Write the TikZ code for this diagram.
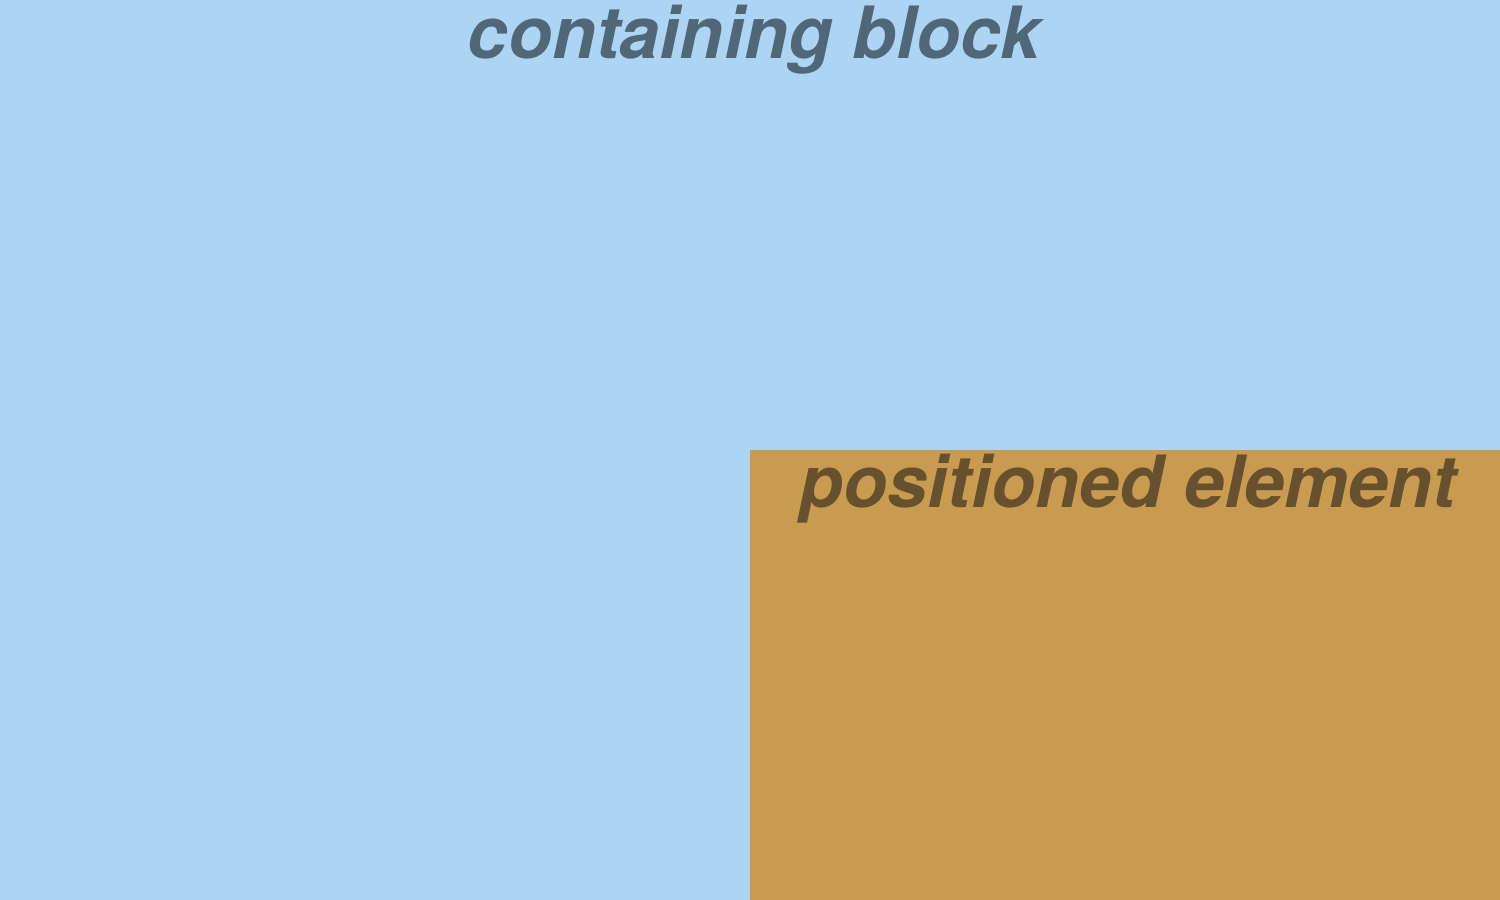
\documentclass[tikz,border=0pt]{standalone}
\usepackage{fontspec}
\setmainfont{TeX Gyre Heros}
\definecolor{cbblue}{HTML}{ADD4F3}
\definecolor{peorange}{HTML}{C99B50}
\definecolor{cbtext}{HTML}{4F6777}
\definecolor{petext}{HTML}{67502D}
\tikzset{
  lbl/.style={anchor=base, inner sep=0pt, font=\fontsize{20.5pt}{24pt}\selectfont\bfseries\itshape}
}
\begin{document}
\begin{tikzpicture}[x=0.01cm,y=-0.01cm]
\useasboundingbox (0,0) rectangle (1500,900);
\fill[cbblue] (0,0) rectangle (1500,900);
\fill[peorange] (750,450) rectangle (1500,900);
\node[lbl, text=cbtext] (cb) at (754,58) {containing block};
\node[lbl, text=petext] (pe) at (1128,507) {positioned element};
\end{tikzpicture}
\end{document}
